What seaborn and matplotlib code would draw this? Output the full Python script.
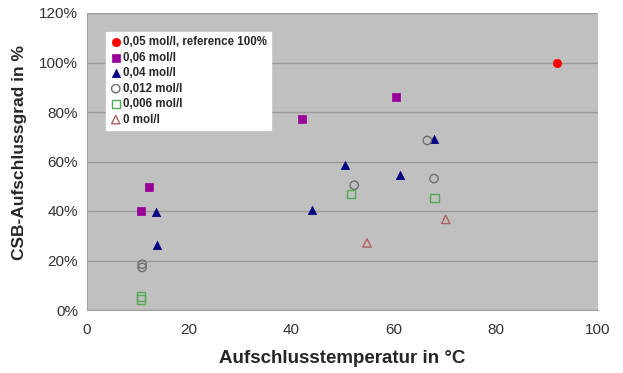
import numpy as np
import pandas as pd
import seaborn as sns
import matplotlib.pyplot as plt
from matplotlib.ticker import PercentFormatter

# data (temperature in °C, degree in %)
x_005 = [92]
y_005 = [100]
x_006 = [10.6, 12.2, 42.0, 60.5]
y_006 = [40, 49.6, 77.3, 86]
x_004 = [13.5, 13.7, 44.1, 50.4, 61.2, 68.0]
y_004 = [39.6, 26.2, 40.3, 58.7, 54.4, 69.2]
x_0012 = [10.8, 10.8, 52.3, 66.6, 67.9]
y_0012 = [18.5, 17.2, 50.4, 68.5, 53.1]
x_0006 = [10.6, 10.6, 51.7, 68.0]
y_0006 = [5.4, 4.2, 47.0, 45.3]
x_0 = [54.8, 70.2]
y_0 = [27.1, 36.6]

series = [
    ('0,05 mol/l, reference 100%', x_005, y_005, 'o', '#ff0000', True),
    ('0,06 mol/l', x_006, y_006, 's', '#990099', True),
    ('0,04 mol/l', x_004, y_004, '^', '#000080', True),
    ('0,012 mol/l', x_0012, y_0012, 'o', '#707070', False),
    ('0,006 mol/l', x_0006, y_0006, 's', '#55aa55', False),
    ('0 mol/l', x_0, y_0, '^', '#b06060', False),
]

sns.set_style('white')
plt.rcParams['font.family'] = ['Liberation Sans', 'DejaVu Sans']

fig = plt.figure(figsize=(6.23, 3.73), dpi=100)
ax = fig.add_axes([87/623, 1 - 310/373, (598-87)/623, (310-13)/373])
ax.set_facecolor('#c0c0c0')

for name, xs, ys, m, c, filled in series:
    df = pd.DataFrame({'x': xs, 'y': ys})
    if filled:
        sns.scatterplot(data=df, x='x', y='y', marker=m, color=c, edgecolor=c,
                        s=36, linewidth=0.5, ax=ax, label=name, zorder=3)
    else:
        sns.scatterplot(data=df, x='x', y='y', marker=m, facecolor='none', edgecolor=c,
                        s=36, linewidth=1.0, ax=ax, label=name, zorder=3)

ax.set_xlim(0, 100)
ax.set_ylim(0, 120)
ax.set_xticks([0, 20, 40, 60, 80, 100])
ax.set_yticks([0, 20, 40, 60, 80, 100, 120])
ax.yaxis.set_major_formatter(PercentFormatter(decimals=0))
ax.grid(axis='y', color='#9a9a9a', linewidth=1)
ax.set_axisbelow(True)
for s in ['top', 'right']:
    ax.spines[s].set_visible(False)
for s in ['left', 'bottom']:
    ax.spines[s].set_color('#a0a0a0')
ax.tick_params(axis='both', labelsize=11, colors='#333333', length=3)
ax.tick_params(axis='both', color='#a0a0a0')
ax.tick_params(axis='x', pad=6)

ax.set_xlabel('Aufschlusstemperatur in °C', fontsize=13.5, fontweight='bold', labelpad=10)
ax.set_ylabel('CSB-Aufschlussgrad in %', fontsize=12.5, fontweight='bold')
ax.yaxis.set_label_coords(-0.118, 0.53)

leg = ax.legend(loc='upper left', bbox_to_anchor=(0.037, 0.935), frameon=True, fancybox=False,
                prop={'weight': 'bold', 'size': 8.3}, handletextpad=0.1, borderpad=0.35,
                labelspacing=0.3, handlelength=1.0, borderaxespad=0)
leg.get_frame().set_edgecolor('white')
leg.get_frame().set_alpha(1)

fig.savefig('out.png', dpi=100)
